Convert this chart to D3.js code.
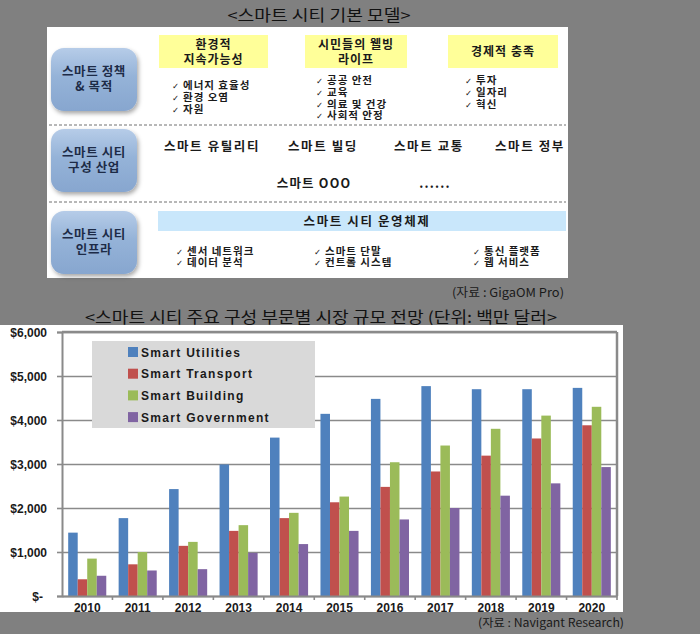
<!DOCTYPE html>
<html><head><meta charset="utf-8">
<script src="https://cdn.jsdelivr.net/npm/d3@7"></script>
<style>body{margin:0;background:#808080}svg{display:block}</style>
</head><body><svg id="c" width="700" height="634"></svg>
<script>
// ---------- data ----------
const years = ["2010","2011","2012","2013","2014","2015","2016","2017","2018","2019","2020"];
const seriesNames = ["Smart Utilities","Smart Transport","Smart Building","Smart Government"];
const smartUtilities  = [1440,1770,2430,2990,3600,4140,4480,4770,4700,4700,4730];
const smartTransport  = [380,720,1140,1480,1770,2130,2480,2830,3190,3580,3880];
const smartBuilding   = [850,1000,1230,1610,1890,2260,3040,3420,3800,4100,4300];
const smartGovernment = [460,580,610,980,1180,1480,1740,2000,2280,2560,2930];
const seriesColors = ["#4f81bd","#c0504d","#9bbb59","#8064a2"];
const yTickValues = [0,1000,2000,3000,4000,5000,6000];

const diagramTitle = "<스마트 시티 기본 모델>";
const chartTitle = "<스마트 시티 주요 구성 부문별 시장 규모 전망 (단위: 백만 달러>";
const layerLabels = [["스마트 정책","& 목적"],["스마트 시티","구성 산업"],["스마트 시티","인프라"]];
const goalHeads = [["환경적","지속가능성"],["시민들의 웰빙","라이프"],["경제적 충족"]];
const goalItems = [["에너지 효율성","환경 오염","자원"],["공공 안전","교육","의료 및 건강","사회적 안정"],["투자","일자리","혁신"]];
const industries = ["스마트 유틸리티","스마트 빌딩","스마트 교통","스마트 정부"];
const industriesMore = ["스마트 OOO","......"];
const platformLabel = "스마트 시티 운영체제";
const infraItems = [["센서 네트워크","데이터 분석"],["스마트 단말","컨트롤 시스템"],["통신 플랫폼","웹 서비스"]];
const source1 = "(자료 : GigaOM Pro)";
const source2 = "(자료 : Navigant Research)";

// ---------- setup ----------
const svg = d3.select("#c");
const KR = "'Noto Sans CJK KR','Noto Sans',sans-serif";
const LAT = "'Liberation Sans',Arial,sans-serif";
svg.append("rect").attr("width",700).attr("height",634).attr("fill","#808080");

const defs = svg.append("defs");
const g1 = defs.append("linearGradient").attr("id","boxg").attr("x1",0).attr("y1",0).attr("x2",0).attr("y2",1);
g1.append("stop").attr("offset","0%").attr("stop-color","#b6cce8");
g1.append("stop").attr("offset","45%").attr("stop-color","#95b3d8");
g1.append("stop").attr("offset","100%").attr("stop-color","#87a6cf");
const f = defs.append("filter").attr("id","sh").attr("x","-20%").attr("y","-20%").attr("width","150%").attr("height","150%");
f.append("feDropShadow").attr("dx",1.5).attr("dy",2.5).attr("stdDeviation",2).attr("flood-color","#000").attr("flood-opacity",0.35);

// ---------- top diagram ----------
svg.append("text").attr("x",319).attr("y",21).attr("text-anchor","middle")
  .attr("font-family",KR).attr("font-size",15.5).attr("fill","#111")
  .attr("textLength",183).attr("lengthAdjust","spacingAndGlyphs").text(diagramTitle);

svg.append("rect").attr("x",47).attr("y",27).attr("width",521).attr("height",251).attr("fill","#fff");

// dashed separators
[125,202].forEach(yy=>svg.append("line").attr("x1",49).attr("x2",566).attr("y1",yy).attr("y2",yy)
  .attr("stroke","#707070").attr("stroke-width",1).attr("stroke-dasharray","3,2"));

// layer boxes
const boxY = [48,129,211];
layerLabels.forEach((lines,i)=>{
  svg.append("rect").attr("x",51).attr("y",boxY[i]).attr("width",86).attr("height",63)
    .attr("rx",13).attr("fill","url(#boxg)").attr("filter","url(#sh)");
  const tx = svg.append("text").attr("text-anchor","middle").attr("font-family",KR).attr("font-weight",700)
    .attr("font-size",12.5).attr("letter-spacing",0.6).attr("fill","#1d2b47");
  lines.forEach((t,j)=>tx.append("tspan").attr("x",94).attr("y",boxY[i]+31+(j-0.5)*15+4.5).text(t));
});

// goal heads (yellow)
const headX = [159,305,448], headW = [109,102,110];
goalHeads.forEach((lines,i)=>{
  svg.append("rect").attr("x",headX[i]).attr("y",35).attr("width",headW[i]).attr("height",33).attr("fill","#ffff99");
  const cx = headX[i]+headW[i]/2;
  const tx = svg.append("text").attr("text-anchor","middle").attr("font-family",KR).attr("font-weight",700)
    .attr("font-size",12).attr("letter-spacing",1).attr("fill","#1a1a1a");
  lines.forEach((t,j)=>tx.append("tspan").attr("x",cx).attr("y",51.5+(j-(lines.length-1)/2)*15+4.5).text(t));
});

// bullet list helper: one text element per column, one line per tspan group
function bulletList(items, x, y0, step){
  const tx = svg.append("text").attr("font-family",KR).attr("font-size",10.5).attr("fill","#1a1a1a");
  items.forEach((t,j)=>{
    tx.append("tspan").attr("x",x).attr("y",y0+j*step).attr("font-family","'DejaVu Sans',sans-serif")
      .attr("font-size",8.5).text("✓");
    tx.append("tspan").attr("x",x+11).attr("y",y0+j*step).attr("font-weight",700).attr("letter-spacing",1).text(t);
  });
}
const itemX = [172,316,465], itemY0 = [89,84,84];
goalItems.forEach((items,i)=>bulletList(items,itemX[i],itemY0[i],11.8));

// industries
const indX = [212,323,429,530];
industries.forEach((t,i)=>svg.append("text").attr("x",indX[i]).attr("y",150.5).attr("text-anchor","middle")
  .attr("font-family",KR).attr("font-weight",700).attr("font-size",12.5).attr("letter-spacing",1.6)
  .attr("fill","#1a1a1a").text(t));
const moreX = [314,435];
industriesMore.forEach((t,i)=>svg.append("text").attr("x",moreX[i]).attr("y",187.5).attr("text-anchor","middle")
  .attr("font-family",KR).attr("font-weight",700).attr("font-size",12.5).attr("letter-spacing",1.2)
  .attr("fill","#1a1a1a").text(t));

// platform
svg.append("rect").attr("x",158).attr("y",211).attr("width",408).attr("height",20).attr("fill","#c9e7fb");
svg.append("text").attr("x",367).attr("y",225.5).attr("text-anchor","middle").attr("font-family",KR)
  .attr("font-weight",700).attr("font-size",12.5).attr("letter-spacing",1.6).attr("fill","#1a1a1a").text(platformLabel);

const infraX = [176,314,473];
infraItems.forEach((items,i)=>bulletList(items,infraX[i],254.5,11.8));

svg.append("text").attr("x",564).attr("y",296.5).attr("text-anchor","end").attr("font-family",KR)
  .attr("font-size",12).attr("fill","#1a1a1a").attr("textLength",112).attr("lengthAdjust","spacingAndGlyphs").text(source1);

// ---------- bar chart ----------
svg.append("text").attr("x",85).attr("y",323).attr("font-family",KR).attr("font-size",15.5).attr("fill","#111")
  .attr("textLength",472).attr("lengthAdjust","spacingAndGlyphs").text(chartTitle);

svg.append("rect").attr("x",0).attr("y",325).attr("width",623).attr("height",287).attr("fill","#fff");

const L = 62, R = 617, T = 332, B = 596;
const x0 = d3.scaleBand().domain(years).range([L,R]).paddingInner(0).paddingOuter(0);
const x1 = d3.scaleBand().domain(seriesNames).range([0,x0.bandwidth()]).paddingInner(0).paddingOuter(0.65);
const y = d3.scaleLinear().domain([0,6000]).range([B,T]);
const seriesData = [smartUtilities,smartTransport,smartBuilding,smartGovernment];

// grid via axis
const grid = svg.append("g").attr("transform",`translate(${L},0)`)
  .call(d3.axisLeft(y).tickValues(yTickValues).tickSize(-(R-L)).tickFormat(""));
grid.select(".domain").remove();
grid.selectAll("line").attr("stroke","#8a8a8a").attr("stroke-width",1.6);

// right/top border
svg.append("line").attr("x1",R).attr("x2",R).attr("y1",T).attr("y2",B).attr("stroke","#8a8a8a").attr("stroke-width",2.5);
svg.append("line").attr("x1",L).attr("x2",R).attr("y1",T).attr("y2",T).attr("stroke","#8a8a8a").attr("stroke-width",2.5);

// bars
const grp = svg.append("g").selectAll("g").data(years).join("g")
  .attr("transform",d=>`translate(${x0(d)},0)`);
grp.selectAll("rect").data((d,i)=>seriesNames.map((s,k)=>({s,v:seriesData[k][i],k}))).join("rect")
  .attr("x",d=>x1(d.s)).attr("width",x1.bandwidth()).attr("y",d=>y(d.v)).attr("height",d=>B-y(d.v))
  .attr("fill",d=>seriesColors[d.k]);

// y axis
const ya = svg.append("g").attr("transform",`translate(${L},0)`)
  .call(d3.axisLeft(y).tickValues(yTickValues).tickSize(5).tickPadding(10)
    .tickFormat(v=>v===0?"$-":"$"+d3.format(",")(v)));
ya.select(".domain").attr("stroke","#8a8a8a").attr("stroke-width",2);
ya.selectAll("line").attr("stroke","#8a8a8a").attr("stroke-width",1.6);
ya.selectAll("text").attr("font-family",LAT).attr("font-weight",700).attr("font-size",12).attr("fill","#1a1a1a")
  .attr("dy","0.35em");
ya.selectAll("text").filter(d=>d===0).attr("x",-19);

// x axis
const xa = svg.append("g").attr("transform",`translate(0,${B})`)
  .call(d3.axisBottom(x0).tickSize(0).tickPadding(7));
xa.select(".domain").attr("stroke","#8a8a8a").attr("stroke-width",2);
xa.selectAll("text").attr("font-family",LAT).attr("font-weight",700).attr("font-size",12).attr("fill","#1a1a1a");
svg.append("g").selectAll("line").data(years.slice(1).concat(["__end"])).join("line")
  .attr("x1",d=>d==="__end"?R:x0(d)).attr("x2",d=>d==="__end"?R:x0(d))
  .attr("y1",B).attr("y2",B+4).attr("stroke","#8a8a8a").attr("stroke-width",1.6);

// legend
svg.append("rect").attr("x",92).attr("y",341).attr("width",223).attr("height",87).attr("fill","#d9d9d9");
const lg = svg.append("g").selectAll("g").data(seriesNames).join("g")
  .attr("transform",(d,i)=>`translate(128,${352+i*21.7})`);
lg.append("rect").attr("x",0).attr("y",-5).attr("width",10).attr("height",10).attr("fill",(d,i)=>seriesColors[i]);
lg.append("text").attr("x",13).attr("y",4.5).attr("font-family",LAT).attr("font-weight",700)
  .attr("font-size",12).attr("letter-spacing",1.3).attr("fill","#1a1a1a").text(d=>d);

svg.append("text").attr("x",624).attr("y",627).attr("text-anchor","end").attr("font-family",KR)
  .attr("font-size",11.5).attr("fill","#1a1a1a").attr("textLength",146).attr("lengthAdjust","spacingAndGlyphs").text(source2);
</script></body></html>
